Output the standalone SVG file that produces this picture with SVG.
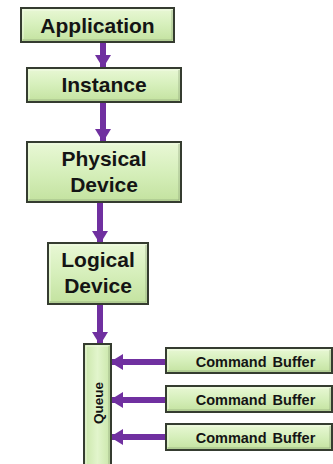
<svg xmlns="http://www.w3.org/2000/svg" width="333" height="464" viewBox="0 0 333 464">
  <defs>
    <linearGradient id="boxFill" x1="0" y1="0" x2="0" y2="1">
      <stop offset="0" stop-color="#e9f8d6"/>
      <stop offset="0.5" stop-color="#d6efbb"/>
      <stop offset="1" stop-color="#c3e29f"/>
    </linearGradient>
    <linearGradient id="queueFill" x1="0" y1="0" x2="1" y2="0">
      <stop offset="0" stop-color="#c9e6a8"/>
      <stop offset="0.5" stop-color="#e2f5cc"/>
      <stop offset="1" stop-color="#c9e6a8"/>
    </linearGradient>
    <marker id="head" markerUnits="userSpaceOnUse" markerWidth="13" markerHeight="16" refX="12" refY="8" orient="auto">
      <path d="M0,0 L13,8 L0,16 Z" fill="#7030a0"/>
    </marker>
  </defs>
  <style>
    .box { fill: url(#boxFill); stroke: #353c30; stroke-width: 2; }
    .bevel { fill: none; stroke: #f4fbe9; stroke-width: 1; opacity: 0.8; }
    .shade { fill: none; stroke: #8fa57a; stroke-width: 1; opacity: 0.7; }
    .label { font-family: "Liberation Sans", Arial, sans-serif; font-weight: bold; fill: #141414; text-anchor: middle; }
    .big { font-size: 21px; }
    .small { font-size: 14.5px; word-spacing: 2px; }
    .q { font-size: 13.5px; }
    .conn { stroke: #7030a0; stroke-width: 6; fill: none; marker-end: url(#head); }
  </style>

  <g id="connectors">
    <line class="conn" x1="103" y1="43" x2="103" y2="67"/>
    <line class="conn" x1="103" y1="102" x2="103" y2="141"/>
    <line class="conn" x1="100" y1="202" x2="100" y2="243"/>
    <line class="conn" x1="100" y1="304" x2="100" y2="344"/>
    <line class="conn" x1="166" y1="362" x2="111" y2="362"/>
    <line class="conn" x1="166" y1="400" x2="111" y2="400"/>
    <line class="conn" x1="166" y1="437" x2="111" y2="437"/>
  </g>

  <g id="application">
    <rect class="box" x="21" y="8" width="153" height="34"/>
    <path class="bevel" d="M23,39 V10 H172"/>
    <path class="shade" d="M23,40 H172 V10"/>
    <text class="label big" x="97.5" y="33">Application</text>
  </g>

  <g id="instance">
    <rect class="box" x="27" y="68" width="154" height="34"/>
    <path class="bevel" d="M29,99 V70 H179"/>
    <path class="shade" d="M29,100 H179 V70"/>
    <text class="label big" x="104" y="92">Instance</text>
  </g>

  <g id="physical-device">
    <rect class="box" x="27" y="142" width="154" height="60"/>
    <path class="bevel" d="M29,199 V144 H179"/>
    <path class="shade" d="M29,200 H179 V144"/>
    <text class="label big" x="104" y="166">Physical</text>
    <text class="label big" x="104" y="192">Device</text>
  </g>

  <g id="logical-device">
    <rect class="box" x="48" y="243" width="100" height="61"/>
    <path class="bevel" d="M50,301 V245 H146"/>
    <path class="shade" d="M50,302 H146 V245"/>
    <text class="label big" x="98" y="267">Logical</text>
    <text class="label big" x="98" y="293">Device</text>
  </g>

  <g id="queue">
    <rect class="box" x="84" y="344" width="27" height="130" style="fill:url(#queueFill)"/>
    <path class="bevel" d="M86,472 V346 H109"/>
    <path class="shade" d="M109,346 V472"/>
    <text class="label q" transform="translate(102.5,403) rotate(-90)">Queue</text>
  </g>

  <g id="command-buffer-1">
    <rect class="box" x="166" y="348" width="166" height="25"/>
    <path class="bevel" d="M168,370 V350 H330"/>
    <path class="shade" d="M168,371 H330 V350"/>
    <text class="label small" x="255.5" y="367">Command Buffer</text>
  </g>

  <g id="command-buffer-2">
    <rect class="box" x="166" y="386" width="166" height="26"/>
    <path class="bevel" d="M168,409 V388 H330"/>
    <path class="shade" d="M168,410 H330 V388"/>
    <text class="label small" x="255.5" y="404.5">Command Buffer</text>
  </g>

  <g id="command-buffer-3">
    <rect class="box" x="166" y="424" width="166" height="26"/>
    <path class="bevel" d="M168,447 V426 H330"/>
    <path class="shade" d="M168,448 H330 V426"/>
    <text class="label small" x="255.5" y="442.5">Command Buffer</text>
  </g>
</svg>
